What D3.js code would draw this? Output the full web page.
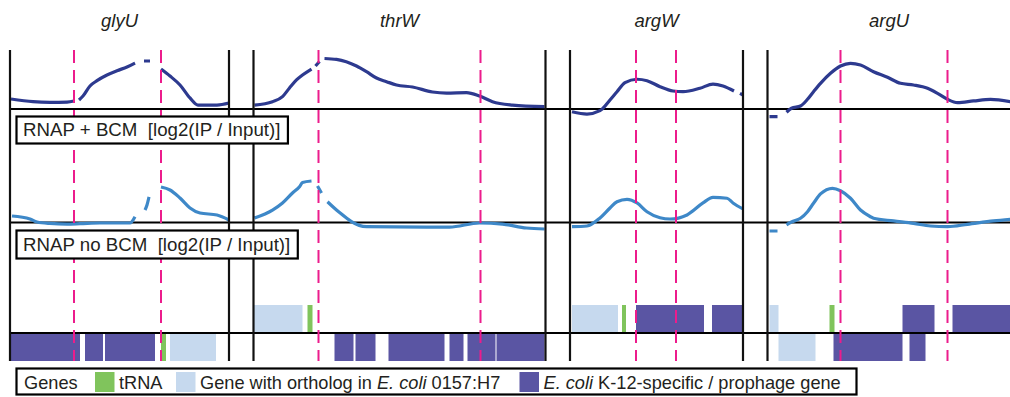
<!DOCTYPE html>
<html>
<head>
<meta charset="utf-8">
<script src="https://cdn.jsdelivr.net/npm/d3@7"></script>
<style>
  body { margin: 0; background: #fff; }
  text { font-family: "Liberation Sans", Arial, Helvetica, sans-serif; fill: #231f20; }
</style>
</head>
<body>
<svg id="chart" width="1010" height="397"></svg>
<script>
// tRNA windows, each one a stretch of genome (bp from the left edge of the window)
const panelNames = ["glyU", "thrW", "argW", "argU"];
const panelLength = [2190, 2920, 1730, 2430];

// magenta dashed marks, bp
const dashedMarks = [[640, 1510], [650, 2270], [660, 1060], [730, 1800]];

// RNAP + BCM, log2(IP / Input); null = no probe
const bcmSignal = [
  [[10,0.83],[230,0.61],[400,0.56],[570,0.58],[640,0.67],[660,null],[690,0.75],[730,1.08],[800,1.92],[870,2.36],[970,2.83],[1070,3.19],[1170,3.5],[1250,3.83],[1300,null],[1340,4.0],[1400,4.0],[1450,null],[1510,3.33],[1600,2.75],[1700,2.0],[1800,0.92],[1880,0.33],[2070,0.33],[2190,0.5]],
  [[10,0.33],[190,0.61],[290,1.03],[360,1.75],[430,2.42],[490,2.83],[580,3.33],[600,null],[620,3.58],[660,3.96],[680,null],[710,4.21],[830,4.13],[1030,3.58],[1130,3.11],[1230,2.58],[1330,2.28],[1430,2.0],[1590,1.83],[1790,1.42],[1930,1.33],[2130,1.36],[2260,1.08],[2390,0.61],[2590,0.33],[2910,0.19]],
  [[20,-0.23],[170,-0.42],[300,-0.14],[400,0.75],[470,1.44],[550,2.19],[670,2.48],[770,2.36],[900,1.86],[1030,1.5],[1130,1.44],[1300,1.73],[1430,2.08],[1530,1.92],[1640,1.5],[1670,null],[1700,1.3],[1730,1.17]],
  [[20,-0.64],[100,-0.64],[130,null],[190,-0.27],[240,0.06],[330,0.25],[400,0.81],[460,1.44],[530,2.14],[630,2.98],[730,3.58],[830,3.81],[930,3.67],[1060,3.11],[1200,2.64],[1330,2.14],[1460,2.0],[1600,1.73],[1700,1.31],[1800,0.81],[1900,0.53],[2060,0.67],[2230,0.81],[2430,0.61]]
];

// RNAP no BCM, log2(IP / Input)
const noBcmSignal = [
  [[20,0.54],[200,0.29],[270,0.04],[400,-0.08],[570,-0.13],[700,-0.1],[900,-0.04],[1200,-0.04],[1250,0.48],[1300,null],[1350,1.04],[1370,1.46],[1390,2.13],[1450,null],[1510,2.96],[1600,2.71],[1700,2.04],[1800,1.21],[1900,0.79],[2070,0.63],[2190,0.21]],
  [[10,0.38],[190,1.04],[290,1.63],[390,2.46],[460,2.98],[490,3.33],[580,3.46],[610,null],[640,3.04],[680,2.46],[710,null],[740,1.73],[830,1.04],[930,0.38],[980,0.07],[1130,-0.35],[1730,-0.38],[1960,-0.38],[2260,-0.04],[2490,-0.13],[2730,-0.46],[2910,-0.54]],
  [[20,-0.35],[170,-0.29],[300,0.38],[400,1.21],[470,1.73],[570,1.93],[670,1.63],[770,0.9],[900,0.4],[1000,0.29],[1170,0.63],[1330,1.63],[1430,2.1],[1570,2.02],[1630,1.63],[1730,1.13]],
  [[20,-0.71],[100,-0.71],[130,null],[190,-0.19],[240,0.04],[330,0.35],[400,0.9],[460,1.6],[530,2.38],[650,2.85],[730,2.65],[830,2.02],[930,1.04],[1030,0.48],[1060,0.35],[1260,0.13],[1460,-0.07],[1630,-0.29],[1800,-0.35],[2000,-0.15],[2260,0.13],[2430,0.27]]
];

// genes: [start, end, type, strand]
const genes = [
  [[0,700,"k12","-"],[750,930,"k12","-"],[950,1450,"k12","-"],[1510,1560,"trna","-"],[1600,2060,"ortholog","-"]],
  [[0,490,"ortholog","+"],[540,590,"trna","+"],[810,1000,"k12","-"],[1020,1220,"k12","-"],[1350,1910,"k12","-"],[1960,2100,"k12","-"],[2140,2420,"k12","-"],[2430,2910,"k12","-"]],
  [[20,480,"ortholog","+"],[520,560,"trna","+"],[660,1340,"k12","+"],[1420,1730,"k12","+"]],
  [[20,110,"ortholog","+"],[620,670,"trna","+"],[1350,1670,"k12","+"],[1850,2430,"k12","+"],[110,480,"ortholog","-"],[660,1350,"k12","-"],[1420,1580,"k12","-"]]
];

const geneColor = { trna: "#80c45c", ortholog: "#c6d9ee", k12: "#5a55a3" };

const svg = d3.select("#chart");
const width = 1010;
const plotTop = 50, plotBottom = 361;
const pxPerBp = 0.1, marginLeft = 10, gap = 24.5;

// one x scale per window, laid end to end
let offset = marginLeft;
const xs = panelLength.map(len => {
  const s = d3.scaleLinear().domain([0, len]).range([offset, offset + len * pxPerBp]);
  offset += len * pxPerBp + gap;
  return s;
});

const yBcm = d3.scaleLinear().domain([-1, 5]).range([121, 49]);
const yNo = d3.scaleLinear().domain([-1, 5]).range([234.5, 162.5]);
const strandY = d3.scaleBand().domain(["+", "-"]).range([305, 361]);

// genes
panelNames.forEach((name, i) => {
  svg.append("g").selectAll("rect")
    .data(genes[i])
    .join("rect")
    .attr("x", d => xs[i](d[0]))
    .attr("width", d => xs[i](d[1]) - xs[i](d[0]))
    .attr("y", d => strandY(d[3]))
    .attr("height", strandY.bandwidth())
    .attr("fill", d => geneColor[d[2]]);
});

// baselines
[yBcm(0), yNo(0), strandY("-")].forEach(y => {
  svg.append("line")
    .attr("x1", marginLeft).attr("x2", width)
    .attr("y1", y).attr("y2", y)
    .attr("stroke", "#000").attr("stroke-width", 2);
});

// signal tracks
function track(data, x, y, color) {
  const line = d3.line()
    .defined(d => d[1] != null)
    .x(d => x(d[0]))
    .y(d => y(d[1]))
    .curve(d3.curveMonotoneX);
  svg.append("path")
    .attr("d", line(data))
    .attr("fill", "none")
    .attr("stroke", color)
    .attr("stroke-width", 3.2);
}
panelNames.forEach((name, i) => {
  track(bcmSignal[i], xs[i], yBcm, "#2d3a8f");
  track(noBcmSignal[i], xs[i], yNo, "#3e88c8");
});

// dashed marks
panelNames.forEach((name, i) => {
  svg.append("g").selectAll("line")
    .data(dashedMarks[i])
    .join("line")
    .attr("x1", d => xs[i](d)).attr("x2", d => xs[i](d))
    .attr("y1", plotTop).attr("y2", plotBottom)
    .attr("stroke", "#ec1c8c")
    .attr("stroke-width", 2)
    .attr("stroke-dasharray", "13,7");
});

// window borders (last window runs off the page)
panelNames.forEach((name, i) => {
  const edges = i < panelNames.length - 1 ? xs[i].range() : [xs[i].range()[0]];
  edges.forEach(xv => {
    svg.append("line")
      .attr("x1", xv).attr("x2", xv)
      .attr("y1", plotTop).attr("y2", plotBottom)
      .attr("stroke", "#111").attr("stroke-width", 2.2);
  });
  svg.append("text")
    .attr("x", d3.mean(xs[i].range()))
    .attr("y", 27)
    .attr("text-anchor", "middle")
    .style("font-size", "18.5px")
    .style("font-style", "italic")
    .text(name);
});

// track labels
const trackLabels = [
  { text: "RNAP + BCM  [log2(IP / Input)]", y: 116.5, h: 27 },
  { text: "RNAP no BCM  [log2(IP / Input)]", y: 230.5, h: 28 }
];
trackLabels.forEach(l => {
  const g = svg.append("g");
  const t = g.append("text")
    .attr("x", 23).attr("y", l.y + l.h - 7.5)
    .style("font-size", "18.7px")
    .style("white-space", "pre")
    .text(l.text);
  const w = t.node().getComputedTextLength();
  g.insert("rect", "text")
    .attr("x", 16.5).attr("y", l.y)
    .attr("width", w + 14).attr("height", l.h)
    .attr("fill", "#fff").attr("stroke", "#000").attr("stroke-width", 2.2);
});

// legend
const lg = svg.append("g");
lg.append("rect")
  .attr("x", 16.5).attr("y", 368.5).attr("width", 840).attr("height", 26)
  .attr("fill", "#fff").attr("stroke", "#000").attr("stroke-width", 2.2);
lg.append("text").attr("x", 24).attr("y", 388.5).style("font-size", "18.2px").text("Genes");
const legendItems = [
  { type: "trna", sx: 95, parts: [["tRNA", false]] },
  { type: "ortholog", sx: 176, parts: [["Gene with ortholog in ", false], ["E. coli", true], [" 0157:H7", false]] },
  { type: "k12", sx: 519.5, parts: [["E. coli", true], [" K-12-specific / prophage gene", false]] }
];
legendItems.forEach(it => {
  lg.append("rect")
    .attr("x", it.sx).attr("y", 372).attr("width", 19.5).attr("height", 20)
    .attr("fill", geneColor[it.type]);
  const t = lg.append("text")
    .attr("x", it.sx + 24).attr("y", 388.5)
    .style("font-size", "18.2px")
    .style("white-space", "pre");
  it.parts.forEach(p => {
    t.append("tspan").style("font-style", p[1] ? "italic" : "normal").text(p[0]);
  });
});
</script>
</body>
</html>
